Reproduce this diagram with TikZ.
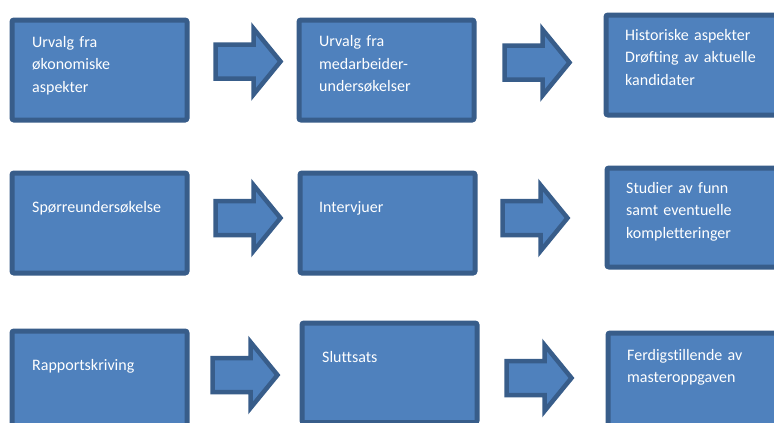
\documentclass[tikz,border=0pt]{standalone}
\usepackage{fontspec}
\setmainfont[Ligatures=NoCommon]{Carlito}
\definecolor{boxfill}{HTML}{4F81BD}
\definecolor{boxline}{HTML}{385D8A}
\tikzset{
  box/.style={rectangle, draw=boxline, fill=boxfill, line width=5pt, rounded corners=2pt,
    minimum width=175pt, minimum height=100pt, anchor=north west, inner sep=0pt},
  boxtext/.style={anchor=base west, inner sep=0pt, text=white, align=left, text width=165pt,
    font=\fontsize{16}{22.5}\selectfont},
  barrow/.pic={\path[draw=boxline, fill=boxfill, line width=4.5pt, miter limit=10]
    (0,-17) -- (38,-17) -- (38,-33) -- (65,0) -- (38,33) -- (38,17) -- (0,17) -- cycle;}
}
\begin{document}
\begin{tikzpicture}[x=1pt,y=-1pt]
\useasboundingbox (0,0) rectangle (774,423);
\clip (0,0) rectangle (774,423);
\fill[white] (0,0) rectangle (774,423);
% row 1
\node[box] (b1) at (9.5,17.5) {};
\node[box] (b2) at (296.5,17.5) {};
\node[box, minimum width=200pt] (b3) at (603.5,12.5) {};
% row 2
\node[box] (b4) at (9.5,170.5) {};
\node[box] (b5) at (297.5,170.5) {};
\node[box, minimum width=200pt, minimum height=99pt] (b6) at (604.5,165.5) {};
% row 3
\node[box, minimum height=120pt] (b7) at (9.5,328.5) {};
\node[box, minimum height=99.5pt] (b8) at (299.5,320.5) {};
\node[box, minimum width=200pt, minimum height=120pt] (b9) at (605.5,330.5) {};
% arrows
\pic (a1) at (215.5,61.5) {barrow};
\pic (a2) at (504.5,62.5) {barrow};
\pic (a3) at (215.5,218) {barrow};
\pic (a4) at (502.5,218) {barrow};
\pic (a5) at (212.5,375) {barrow};
\pic (a6) at (506.5,378) {barrow};
% texts
\node[boxtext] (t1) at (32,47) {Urvalg fra\\økonomiske\\aspekter};
\node[boxtext] (t2) at (319,46.5) {Urvalg fra\\medarbeider-\\undersøkelser};
\node[boxtext] (t3) at (625,40) {Historiske aspekter\\Drøfting av aktuelle\\kandidater};
\node[boxtext] (t4) at (32,212) {Spørreundersøkelse};
\node[boxtext] (t5) at (319,212) {Intervjuer};
\node[boxtext] (t6) at (626,193) {Studier av funn\\samt eventuelle\\kompletteringer};
\node[boxtext] (t7) at (32,370) {Rapportskriving};
\node[boxtext] (t8) at (322,362) {Sluttsats};
\node[boxtext] (t9) at (627,360) {Ferdigstillende av\\masteroppgaven};
\end{tikzpicture}
\end{document}
